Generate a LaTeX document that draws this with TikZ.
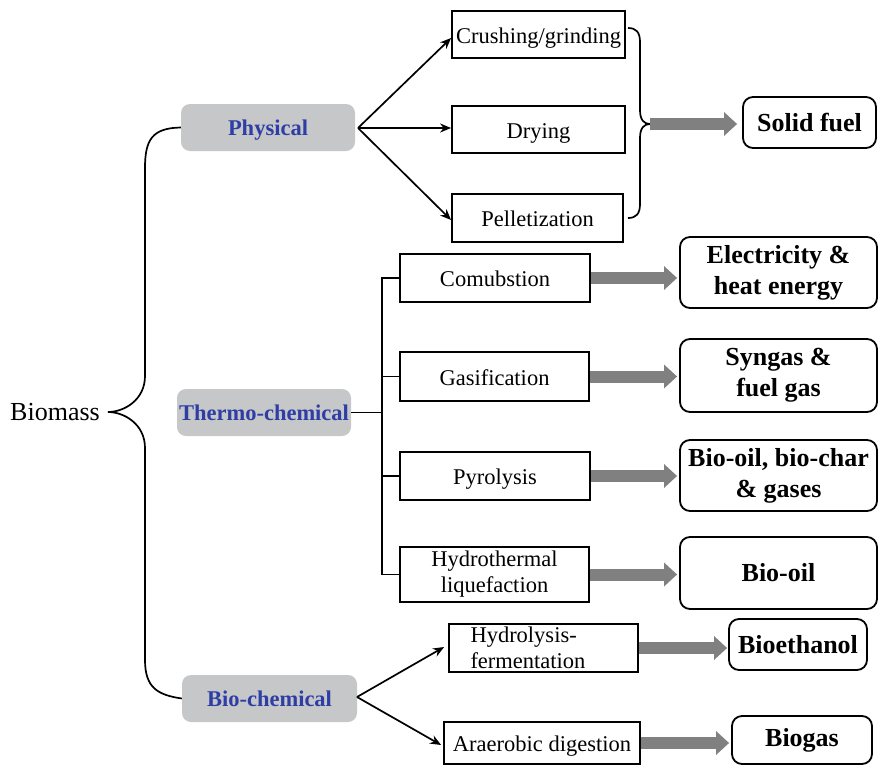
\documentclass[tikz,border=0pt]{standalone}
\usepackage{fontspec}
\setmainfont{Liberation Serif}
\usetikzlibrary{arrows.meta}
\definecolor{boxgrey}{RGB}{198,199,200}
\definecolor{catblue}{RGB}{46,62,165}
\definecolor{arrgrey}{RGB}{128,128,128}
\begin{document}
\begin{tikzpicture}[x=1pt,y=-1pt,
  catbox/.style={fill=boxgrey, rounded corners=9pt, minimum width=175pt, minimum height=47pt,
    inner sep=0pt, text=catblue, text height=16pt, text depth=1pt, font=\fontsize{22.5}{26}\selectfont\bfseries},
  procbox/.style={draw, line width=1.8pt, minimum height=48pt, inner sep=0pt, align=center,
    font=\fontsize{22.5}{26}\selectfont},
  single/.style={text height=17pt, text depth=0pt},
  outbox/.style={draw, line width=1.8pt, rounded corners=10pt, inner sep=0pt, align=center,
    font=\fontsize{26}{31}\selectfont\bfseries},
  conn/.style={line width=1.7pt, -{Stealth[length=11pt,width=9pt]}},
  plain/.style={line width=1.7pt},
  bigarrow/.style={draw=arrgrey, line width=12pt, -{Triangle[length=13pt,width=23pt]}}
]
\useasboundingbox (0,0) rectangle (878,766);

% left
\node[font=\fontsize{26}{30}\selectfont] (biomass) at (55,412) {Biomass};
\coordinate (bmtip) at (108,412);

% categories
\node[catbox, minimum width=174pt] (phys) at (268,127.5) {Physical};
\node[catbox, minimum width=174pt] (thermo) at (264,412.5) {Thermo-chemical};
\node[catbox] (bioc) at (269.5,698.5) {Bio-chemical};

% physical processes
\node[procbox, single, minimum width=173pt, minimum height=47pt] (crush) at (538.5,34.5) {Crushing/grinding};
\node[procbox, single, minimum width=173pt, minimum height=47pt] (dry) at (538.5,129.5) {Drying};
\node[procbox, single, minimum width=171pt] (pell) at (537.5,218) {Pelletization};

% thermo processes
\node[procbox, single, minimum width=190pt] (comb) at (495,278) {Comubstion};
\node[procbox, single, minimum width=189pt, minimum height=49pt] (gas) at (494.5,376.5) {Gasification};
\node[procbox, single, minimum width=190pt] (pyro) at (495,476) {Pyrolysis};
\node[procbox, minimum width=189pt, minimum height=55pt] (hydro) at (494.5,574.5) {Hydrothermal\\liquefaction};

% bio processes
\node[procbox, minimum width=189pt, text width=146pt, inner xsep=21.5pt, align=left] (hydrol) at (543.5,648) {Hydrolysis-\\fermentation};
\node[procbox, single, minimum width=196pt, minimum height=42pt] (anaer) at (542,743) {Araerobic digestion};

% outputs
\node[outbox, minimum width=133pt, minimum height=51pt] (solid) at (809.5,122.5) {Solid fuel};
\node[outbox, minimum width=197pt, minimum height=71pt] (elec) at (778.5,272.5) {Electricity \&\\heat energy};
\node[outbox, minimum width=197pt, minimum height=73pt] (syn) at (778.5,375.5) {Syngas \&\\fuel gas};
\node[outbox, minimum width=197pt, minimum height=71pt] (char) at (778.5,475.5) {Bio-oil, bio-char\\\& gases};
\node[outbox, minimum width=197pt, minimum height=72pt] (oil) at (778.5,573) {Bio-oil};
\node[outbox, minimum width=138pt, minimum height=51pt] (eth) at (798,644.5) {Bioethanol};
\node[outbox, minimum width=140pt, minimum height=48pt] (biogas) at (802,740) {Biogas};

% big brace
\draw[plain] (phys.west) .. controls (152,128) and (145,140) .. (145,168)
  -- (145,376) .. controls (145,400) and (124,412) .. (bmtip)
  .. controls (124,412) and (145,424) .. (145,448)
  -- (145,660) .. controls (145,688) and (158,695) .. (bioc.west);

% physical arrows
\coordinate (pt) at (358,128);
\draw[conn] (pt) -- ([yshift=-3.5pt]crush.west);
\draw[conn] (pt) -- (dry.west |- pt);
\draw[conn] (pt) -- ([yshift=-2pt]pell.west);

% right brace of physical
\coordinate (b1) at (628,28);
\coordinate (b2) at (628,218);
\coordinate (bt) at (650,124);
\draw[plain] (b1) .. controls (636,28) and (640,32) .. (640,42)
  -- (640,110) .. controls (640,120) and (644,124) .. (bt)
  .. controls (644,124) and (640,128) .. (640,138)
  -- (640,204) .. controls (640,214) and (636,218) .. (b2);
\draw[bigarrow] (bt) -- ([xshift=-5pt]solid.west |- bt);

% thermo tree
\coordinate (tj) at (382,412.5);
\draw[plain] (thermo.east) -- (tj);
\draw[plain] (comb.west) -- (comb.west -| tj) -- (hydro.west -| tj) -- (hydro.west);
\draw[plain] (gas.west) -- (gas.west -| tj);
\draw[plain] (pyro.west) -- (pyro.west -| tj);

% bio arrows
\coordinate (bp) at (357,697);
\draw[conn] (bp) -- ([xshift=-4pt,yshift=1pt]hydrol.west);
\draw[conn] (bp) -- ([xshift=-2pt,yshift=-2pt]anaer.west);

% grey arrows
\draw[bigarrow] (comb.east) -- ([xshift=-2pt]elec.west |- comb.east);
\draw[bigarrow] (gas.east) -- ([xshift=-2pt]syn.west |- gas.east);
\draw[bigarrow] (pyro.east) -- ([xshift=-2pt]char.west |- pyro.east);
\draw[bigarrow] (hydro.east) -- ([xshift=-2pt]oil.west |- hydro.east);
\draw[bigarrow] (hydrol.east) -- ([xshift=-1pt]eth.west |- hydrol.east);
\draw[bigarrow] (anaer.east) -- ([xshift=-2pt]biogas.west |- anaer.east);
\end{tikzpicture}
\end{document}
